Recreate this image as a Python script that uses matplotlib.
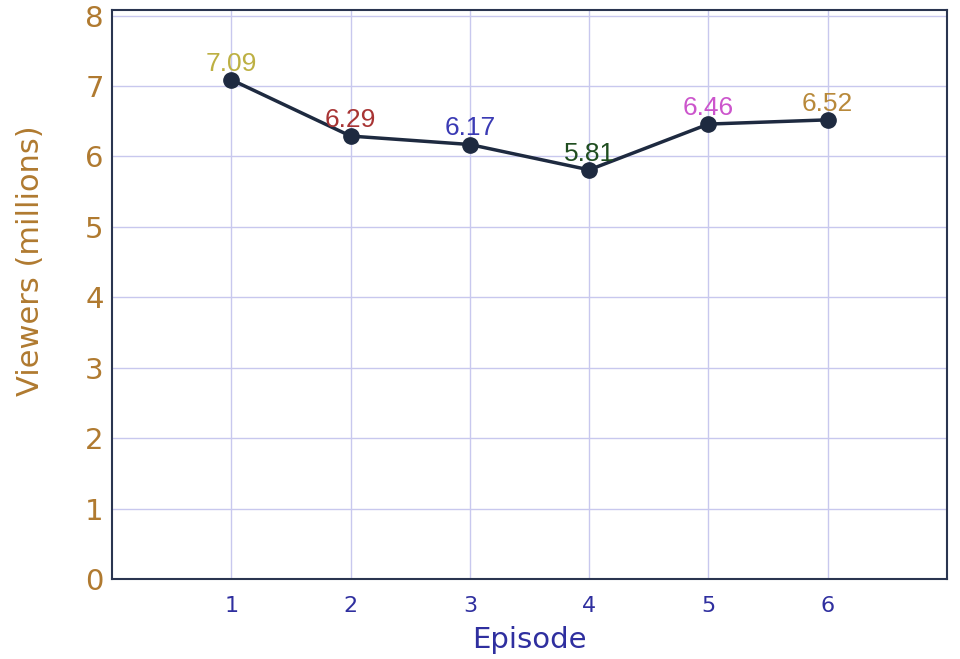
import matplotlib
matplotlib.use("Agg")
import matplotlib.pyplot as plt

episodes = [1, 2, 3, 4, 5, 6]
viewers = [7.09, 6.29, 6.17, 5.81, 6.46, 6.52]
label_colors = ["#bdb043", "#a83434", "#3a3ab4", "#1f4d1f", "#cc55cc", "#b8893a"]

fig = plt.figure(figsize=(9.6, 6.59), dpi=100)
ax = fig.add_axes([112 / 960, 1 - 579 / 659, (947 - 112) / 960, (579 - 10) / 659])

ax.plot(episodes, viewers, color="#1e2a40", linewidth=2.5, marker="o",
        markersize=11, zorder=3)
for x, y, c in zip(episodes, viewers, label_colors):
    ax.annotate(f"{y:.2f}", (x, y), xytext=(0, 3), textcoords="offset points",
                ha="center", va="bottom", color=c, fontsize=19,
                family="Liberation Sans", zorder=4)

ax.set_xlim(0, 7)
ax.set_ylim(0, 8.08)
ax.set_xticks(episodes)
ax.set_yticks(range(0, 9))
ax.grid(True, color="#c8c8ee", linewidth=1)
ax.set_axisbelow(True)
for s in ax.spines.values():
    s.set_color("#2a3550")
    s.set_linewidth(1.5)

ax.tick_params(axis="y", colors="#b07a30", labelsize=21, length=0, pad=6)
ax.tick_params(axis="x", colors="#2f2f9f", labelsize=16, length=0, pad=12)
ax.set_ylabel("Viewers (millions)", color="#b07a30", fontsize=22)
ax.yaxis.set_label_coords(-0.080, 0.56)
ax.set_xlabel("Episode", color="#2f2f9f", fontsize=21)
ax.xaxis.set_label_coords(0.5, -0.083)

fig.savefig("out.png", dpi=100)
